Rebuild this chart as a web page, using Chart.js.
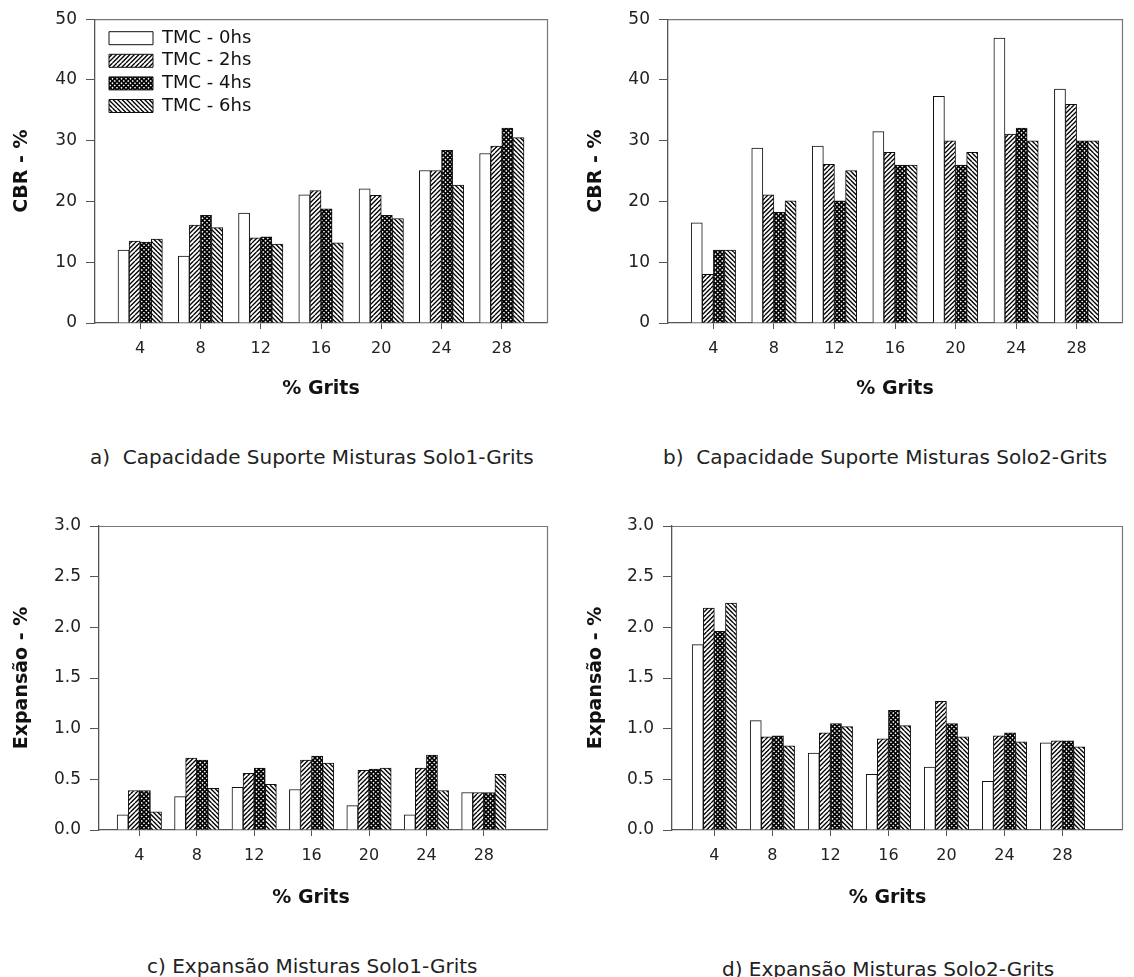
<!DOCTYPE html>
<html><head><meta charset="utf-8">
<script src="https://cdn.jsdelivr.net/npm/chart.js@4.4.1/dist/chart.umd.min.js"></script>
<style>
html,body{margin:0;padding:0;background:#fff}
body{width:1134px;height:977px;position:relative;overflow:hidden;font-family:"DejaVu Sans",sans-serif}
canvas{position:absolute;display:block}
.sub{position:absolute;color:#222;white-space:pre;line-height:1;transform:translateY(-50%);font-size:20px}
</style></head><body>
<canvas id="ca" width="567" height="420" style="left:0;top:0;width:567px;height:420px"></canvas>
<canvas id="cb" width="567" height="420" style="left:567px;top:0;width:567px;height:420px"></canvas>
<canvas id="cc" width="567" height="460" style="left:0;top:470px;width:567px;height:460px"></canvas>
<canvas id="cd" width="567" height="460" style="left:567px;top:470px;width:567px;height:460px"></canvas>
<div class="sub" style="left:90px;top:457px">a)  Capacidade Suporte Misturas Solo1-Grits</div>
<div class="sub" style="left:663px;top:457px">b)  Capacidade Suporte Misturas Solo2-Grits</div>
<div class="sub" style="left:147px;top:966px">c) Expansão Misturas Solo1-Grits</div>
<div class="sub" style="left:722px;top:969px">d) Expansão Misturas Solo2-Grits</div>
<script>
// ---- data ----
const grits = [4, 8, 12, 16, 20, 24, 28];
const seriesNames = ['TMC - 0hs', 'TMC - 2hs', 'TMC - 4hs', 'TMC - 6hs'];

const cbrSolo1_0hs = [12.0, 11.0, 18.1, 21.1, 22.1, 25.1, 27.9];
const cbrSolo1_2hs = [13.5, 16.1, 14.0, 21.8, 21.0, 25.1, 29.1];
const cbrSolo1_4hs = [13.3, 17.7, 14.2, 18.8, 17.7, 28.4, 32.1];
const cbrSolo1_6hs = [13.8, 15.7, 13.0, 13.2, 17.2, 22.7, 30.5];

const cbrSolo2_0hs = [16.5, 28.8, 29.1, 31.5, 37.3, 46.9, 38.5];
const cbrSolo2_2hs = [8.0, 21.1, 26.1, 28.1, 30.0, 31.1, 36.0];
const cbrSolo2_4hs = [12.0, 18.2, 20.1, 26.0, 26.0, 32.1, 30.0];
const cbrSolo2_6hs = [12.0, 20.1, 25.1, 26.0, 28.1, 30.0, 30.0];

const expSolo1_0hs = [0.15, 0.33, 0.42, 0.40, 0.24, 0.15, 0.37];
const expSolo1_2hs = [0.39, 0.71, 0.56, 0.69, 0.59, 0.61, 0.37];
const expSolo1_4hs = [0.39, 0.69, 0.61, 0.73, 0.60, 0.74, 0.37];
const expSolo1_6hs = [0.18, 0.41, 0.45, 0.66, 0.61, 0.39, 0.55];

const expSolo2_0hs = [1.83, 1.08, 0.76, 0.55, 0.62, 0.48, 0.86];
const expSolo2_2hs = [2.19, 0.92, 0.96, 0.90, 1.27, 0.93, 0.88];
const expSolo2_4hs = [1.96, 0.93, 1.05, 1.18, 1.05, 0.96, 0.88];
const expSolo2_6hs = [2.24, 0.83, 1.02, 1.03, 0.92, 0.87, 0.82];

const cbrTicks = [0, 10, 20, 30, 40, 50];
const expTicks = [0, 0.5, 1.0, 1.5, 2.0, 2.5, 3.0];

const cbrTitle = 'CBR - %';
const expTitle = 'Expansão - %';
const xTitle = '% Grits';

// ---- patterns ----
function makePattern(kind) {
  if (kind === 'none') return '#fff';
  const s = 9, step = 4.5;
  const c = document.createElement('canvas');
  c.width = s; c.height = s;
  const g = c.getContext('2d');
  g.fillStyle = '#fff'; g.fillRect(0, 0, s, s);
  g.strokeStyle = '#000';
  const fwd = () => { g.beginPath(); for (let k = -3; k <= 3; k++) { g.moveTo(k * step, s); g.lineTo(k * step + s, 0); } g.stroke(); };
  const bwd = () => { g.beginPath(); for (let k = -3; k <= 3; k++) { g.moveTo(k * step, 0); g.lineTo(k * step + s, s); } g.stroke(); };
  if (kind === 'fwd') { g.lineWidth = 1.35; fwd(); }
  if (kind === 'bwd') { g.lineWidth = 1.35; bwd(); }
  if (kind === 'cross') { g.lineWidth = 1.6; fwd(); bwd(); }
  return document.createElement('canvas').getContext('2d').createPattern(c, 'repeat');
}
const fills = [makePattern('none'), makePattern('fwd'), makePattern('cross'), makePattern('bwd')];

const framePlugin = {
  id: 'frame',
  afterDraw(chart) {
    const a = chart.chartArea, ctx = chart.ctx;
    ctx.save();
    ctx.strokeStyle = '#777'; ctx.lineWidth = 1.2;
    ctx.beginPath();
    ctx.moveTo(a.left, a.top + 0.5); ctx.lineTo(a.right + 0.5, a.top + 0.5); ctx.lineTo(a.right + 0.5, a.bottom);
    ctx.stroke();
    const sh = chart.options.xTitleShift;
    if (sh) {
      ctx.fillStyle = '#111';
      ctx.font = "bold 19px 'DejaVu Sans', sans-serif";
      ctx.textAlign = 'center'; ctx.textBaseline = 'middle';
      ctx.fillText(xTitle, (a.left + a.right) / 2 + sh, chart.height - chart.options.xTitlePad - 11.4);
    }
    ctx.restore();
  }
};
const legendShift = {
  id: 'legendShift',
  beforeDraw(chart) {
    if (chart.legend && chart.options.plugins.legend.display) {
      const a = chart.chartArea;
      const w = chart.legend.right - chart.legend.left, h = chart.legend.bottom - chart.legend.top;
      chart.legend.left = a.left + 9.4; chart.legend.right = chart.legend.left + w;
      chart.legend.top = a.top + 5.4; chart.legend.bottom = chart.legend.top + h;
    }
  }
};

Chart.defaults.font.family = "'DejaVu Sans', sans-serif";
Chart.defaults.color = '#222';

function panel(id, p) {
  const datasets = p.series.map((vals, i) => ({
    label: seriesNames[i],
    data: grits.map((g, k) => ({ x: g, y: vals[k] })),
    backgroundColor: fills[i],
    borderColor: '#111',
    borderWidth: 1,
    borderSkipped: 'bottom',
    barThickness: 11.1
  }));
  return new Chart(document.getElementById(id), {
    type: 'bar',
    data: { datasets },
    plugins: [framePlugin, legendShift],
    options: {
      responsive: false,
      animation: false,
      devicePixelRatio: 1,
      xTitleShift: p.xTitleShift || 0,
      xTitlePad: p.xTitlePad,
      layout: { padding: { top: p.padTop, right: p.padRight, left: 0, bottom: 0 } },
      plugins: {
        legend: {
          display: !!p.legend,
          position: 'chartArea',
          align: 'start',
          labels: { boxWidth: 44, boxHeight: 13, padding: 4.6, font: { size: 18 }, color: '#111' }
        },
        tooltip: { enabled: false }
      },
      scales: {
        x: {
          type: 'linear',
          offset: false,
          min: p.xMin, max: p.xMax,
          afterBuildTicks: (s) => { s.ticks = grits.map(v => ({ value: v })); },
          afterFit: (s) => { s.height = p.xHeight; },
          grid: { display: true, offset: false, drawOnChartArea: false, drawTicks: true, tickLength: 6, color: '#555' },
          border: { display: true, color: '#555', width: 1.3 },
          ticks: { font: { size: 16 }, padding: 10, color: '#222', maxRotation: 0, autoSkip: false, callback: (v) => String(v) },
          title: { display: !p.xTitleShift, text: xTitle, font: { size: 19, weight: 'bold' }, color: '#111', padding: { top: 0, bottom: p.xTitlePad } }
        },
        y: {
          min: p.yMin, max: p.yMax,
          afterFit: (s) => { s.width = p.yWidth; },
          afterBuildTicks: (s) => { s.ticks = p.yTicks.map(v => ({ value: v })); },
          grid: { display: true, drawOnChartArea: false, drawTicks: true, tickLength: 9, color: '#555' },
          border: { display: true, color: '#555', width: 1.3 },
          ticks: { font: { size: 17 }, padding: 9, color: '#222', callback: p.yFmt },
          title: { display: true, text: p.yTitle, font: { size: 19, weight: 'bold' }, color: '#111', padding: { top: p.yTitlePad, bottom: 0 } }
        }
      }
    }
  });
}

panel('ca', { series: [cbrSolo1_0hs, cbrSolo1_2hs, cbrSolo1_4hs, cbrSolo1_6hs], legend: true,
  padTop: 19, padRight: 20, yWidth: 95, xHeight: 97, xMin: 1, xMax: 31, yMin: 0, yMax: 50,
  yTicks: cbrTicks, yFmt: (v) => String(v), yTitle: cbrTitle, yTitlePad: 10.6, xTitlePad: 20 });
panel('cb', { series: [cbrSolo2_0hs, cbrSolo2_2hs, cbrSolo2_4hs, cbrSolo2_6hs], legend: false,
  padTop: 19, padRight: 12, yWidth: 101, xHeight: 97, xMin: 1, xMax: 31, yMin: 0, yMax: 50,
  yTicks: cbrTicks, yFmt: (v) => String(v), yTitle: cbrTitle, yTitlePad: 17.6, xTitlePad: 20 });
panel('cc', { series: [expSolo1_0hs, expSolo1_2hs, expSolo1_4hs, expSolo1_6hs], legend: false,
  padTop: 56, padRight: 20, yWidth: 99, xHeight: 100, xMin: 1.19, xMax: 32.4, yMin: 0, yMax: 3,
  yTicks: expTicks, yFmt: (v) => Number(v).toFixed(1), yTitle: expTitle, yTitlePad: 10.6, xTitlePad: 21, xTitleShift: -12 });
panel('cd', { series: [expSolo2_0hs, expSolo2_2hs, expSolo2_4hs, expSolo2_6hs], legend: false,
  padTop: 56, padRight: 12, yWidth: 105, xHeight: 100, xMin: 1.08, xMax: 32.1, yMin: 0, yMax: 3,
  yTicks: expTicks, yFmt: (v) => Number(v).toFixed(1), yTitle: expTitle, yTitlePad: 17.6, xTitlePad: 21, xTitleShift: -9.5 });
</script>
</body></html>
